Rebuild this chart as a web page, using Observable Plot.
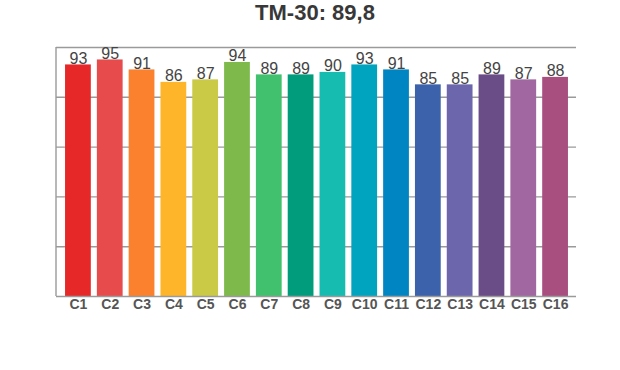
<!DOCTYPE html>
<html>
<head>
<meta charset="utf-8">
<script src="https://cdn.jsdelivr.net/npm/d3@7"></script>
<script src="https://cdn.jsdelivr.net/npm/@observablehq/plot@0.6"></script>
<style>
  html, body { margin: 0; padding: 0; background: #fff; }
  #wrap { width: 620px; height: 370px; position: relative; }
  #title { height: 30px; line-height: 30px; font: bold 22px "Liberation Sans", Arial, sans-serif; color: #383838; text-align: center; padding-left: 10px; }
</style>
</head>
<body>
<div id="wrap">
  <div id="title">TM-30: 89,8</div>
  <div id="chart"></div>
</div>
<script>
const categories = ["C1","C2","C3","C4","C5","C6","C7","C8","C9","C10","C11","C12","C13","C14","C15","C16"];
const values = [93,95,91,86,87,94,89,89,90,93,91,85,85,89,87,88];
const colors = ["#e62828","#e74b4b","#fb812e","#ffb529","#cbca46","#7eb94c","#41c06d","#009c7c","#16bcb0","#00a4bf","#0085c3","#3b62aa","#6c67ad","#6a4c86","#a067a0","#a84f80"];
const gridTicks = [20, 40, 60, 80, 100];

const data = categories.map((c, i) => ({cat: c, value: values[i], color: colors[i]}));

// left axis line drawn from the plot's own frame dimensions
function leftAxisLine(index, scales, values, dimensions) {
  const {marginLeft, marginTop, height, marginBottom} = dimensions;
  return d3.create("svg:line")
    .attr("x1", marginLeft).attr("x2", marginLeft)
    .attr("y1", marginTop).attr("y2", height - marginBottom)
    .attr("stroke", "#9a9a9a").attr("stroke-width", 1.4)
    .node();
}

const chart = Plot.plot({
  width: 620,
  height: 340,
  marginTop: 17,
  marginBottom: 74,
  marginLeft: 56,
  marginRight: 44,
  style: {fontFamily: "'Liberation Sans', Arial, sans-serif", background: "#fff"},
  x: {domain: categories, range: [59, 574], padding: 0.19, round: false, label: null},
  y: {domain: [0, 100], label: null, axis: null},
  marks: [
    Plot.ruleY(gridTicks, {stroke: "#9a9a9a", strokeWidth: 1.4}),
    Plot.barY(data, {x: "cat", y: "value", fill: "color"}),
    Plot.text(data, {x: "cat", y: "value", text: d => String(d.value), lineAnchor: "bottom", dy: -1, fontSize: 16, fill: "#444"}),
    Plot.ruleY([0], {stroke: "#9a9a9a", strokeWidth: 1.4}),
    leftAxisLine,
    Plot.axisX({tickSize: 0, tickPadding: 3, fontSize: 14, fontWeight: "bold", fill: "#555", label: null})
  ]
});
document.getElementById("chart").appendChild(chart);
</script>
</body>
</html>
